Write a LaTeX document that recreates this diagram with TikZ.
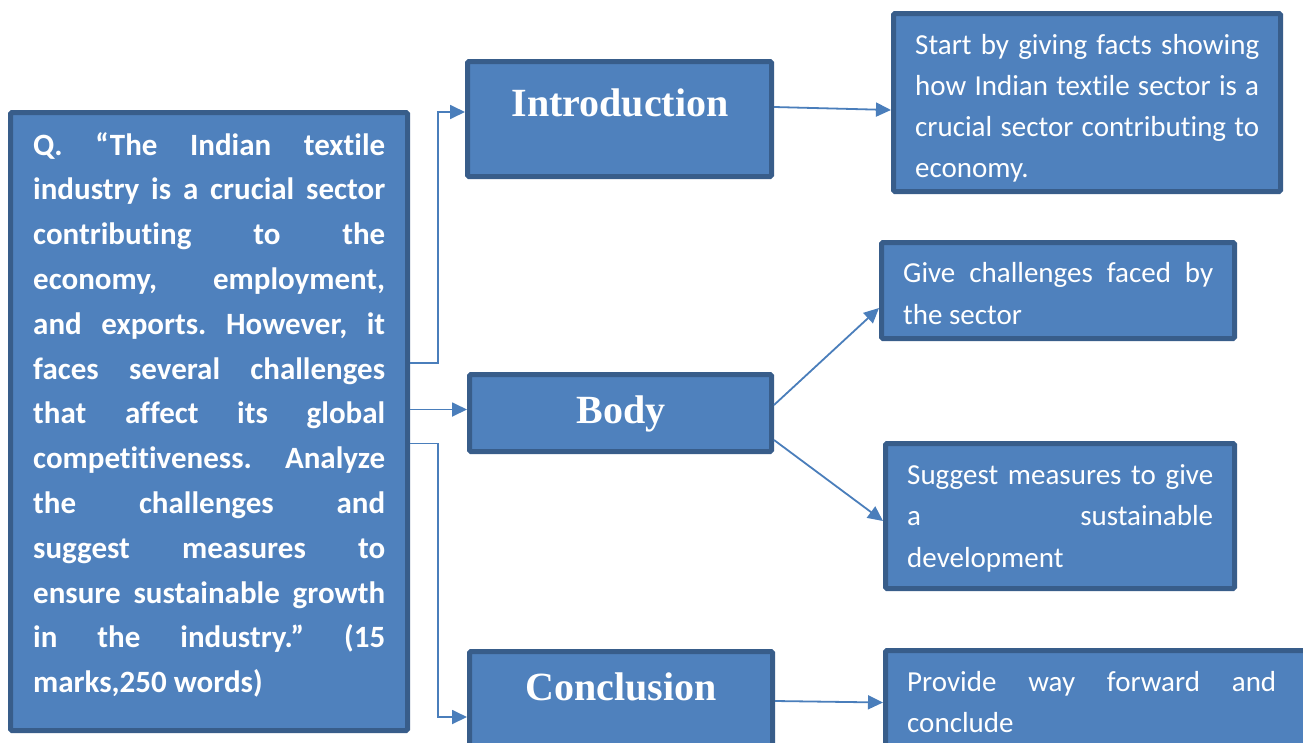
\documentclass[tikz,border=0pt]{standalone}
\usepackage{fontspec}
\setmainfont{Carlito}[RawFeature={-liga;-clig;-calt;-dlig}]
\newfontfamily\headfont{Liberation Serif}
\usetikzlibrary{arrows.meta,calc}

\definecolor{boxfill}{HTML}{4F81BD}
\definecolor{boxline}{HTML}{385D8A}
\definecolor{linkblue}{HTML}{4A7EBB}

% one justified line of a given width, and a ragged last line
\newcommand{\jl}[2]{\hbox to #1{#2}}
\newcommand{\rl}[1]{\hbox{#1}}

\tikzset{
  panel/.style={draw=boxline, fill=boxfill, line width=5pt, inner sep=0pt, rounded corners=1.5pt},
  words/.style={inner sep=0pt, text=white, anchor=base west},
  heading/.style={inner sep=0pt, text=white, anchor=base,
    font=\headfont\bfseries\fontsize{40}{40}\selectfont},
  link/.style={draw=linkblue, line width=1.8pt,
    -{Triangle[length=15pt,width=14pt]}},
}

\begin{document}
\frenchspacing
\begin{tikzpicture}[x=1pt,y=-1pt]
\clip (0,0) rectangle (1303,742);
\fill[white] (0,0) rectangle (1303,742);

% question panel
\node[panel, minimum width=397pt, minimum height=618pt] (q) at (209,421.5) {};
\node[words] (qtext) at (33,155) {\parbox[t]{352pt}{\fontsize{31}{44.8}\selectfont\bfseries
  \jl{352pt}{Q. “The Indian textile}
  \jl{352pt}{industry is a crucial sector}
  \jl{352pt}{contributing to the}
  \jl{352pt}{economy, employment,}
  \jl{352pt}{and exports. However, it}
  \jl{352pt}{faces several challenges}
  \jl{352pt}{that affect its global}
  \jl{352pt}{competitiveness. Analyze}
  \jl{352pt}{the challenges and}
  \jl{352pt}{suggest measures to}
  \jl{352pt}{ensure sustainable growth}
  \jl{352pt}{in the industry.” (15}
  \rl{marks,250 words)}}};

% answer structure panels
\node[panel, minimum width=304pt, minimum height=115pt] (intro) at (619.5,119) {};
\node[heading] (introlabel) at (620,116) {Introduction};

\node[panel, minimum width=302pt, minimum height=77pt] (body) at (620.5,413) {};
\node[heading] (bodylabel) at (621,423) {Body};

\node[panel, minimum width=303pt, minimum height=98pt] (concl) at (621,700.5) {};
\node[heading] (concllabel) at (621,700) {Conclusion};

% guidance panels
\node[panel, minimum width=387pt, minimum height=178pt] (introR) at (1087,102.5) {};
\node[words] (introRtext) at (915,54) {\parbox[t]{344pt}{\fontsize{29}{41.3}\selectfont
  \jl{344pt}{Start by giving facts showing}
  \jl{344pt}{how Indian textile sector is a}
  \jl{344pt}{crucial sector contributing to}
  \rl{economy.}}};

\node[panel, minimum width=353pt, minimum height=96pt] (chal) at (1058,290.5) {};
\node[words] (chaltext) at (903,282) {\parbox[t]{310pt}{\fontsize{29}{42}\selectfont
  \jl{310pt}{Give challenges faced by}
  \rl{the sector}}};

\node[panel, minimum width=349pt, minimum height=145pt] (meas) at (1060,516) {};
\node[words] (meastext) at (907,484) {\parbox[t]{306pt}{\fontsize{29}{41.5}\selectfont
  \jl{306pt}{Suggest measures to give}
  \jl{306pt}{a sustainable}
  \rl{development}}};

\node[panel, minimum width=427pt, minimum height=99pt] (conR) at (1099,700) {};
\node[words] (conRtext) at (907,691) {\parbox[t]{369pt}{\fontsize{29}{41}\selectfont
  \jl{369pt}{Provide way forward and}
  \rl{conclude}}};

% connectors from the question
\draw[link] ($(q.east)+(0,-58.5)$) -- ++(28,0) |- ($(intro.west)+(0,-7)$);
\draw[link] ($(q.east)+(0,-12)$) -- ($(body.west)+(0,-3.5)$);
\draw[link] ($(q.east)+(0,22)$) -- ++(28,0) |- ($(concl.west)+(0,16.5)$);

% connectors to the guidance panels
\draw[link] ($(intro.east)+(0,-12)$) -- ($(introR.west)+(0,7.5)$);
\draw[link] ($(body.east)+(0,-8)$) -- ($(chal.west)+(0,17.5)$);
\draw[link] ($(body.east)+(0,27)$) -- ($(meas.west)+(0,5)$);
\draw[link] ($(concl.east)+(0,0.5)$) -- ($(conR.west)+(0,2.5)$);
\end{tikzpicture}
\end{document}
